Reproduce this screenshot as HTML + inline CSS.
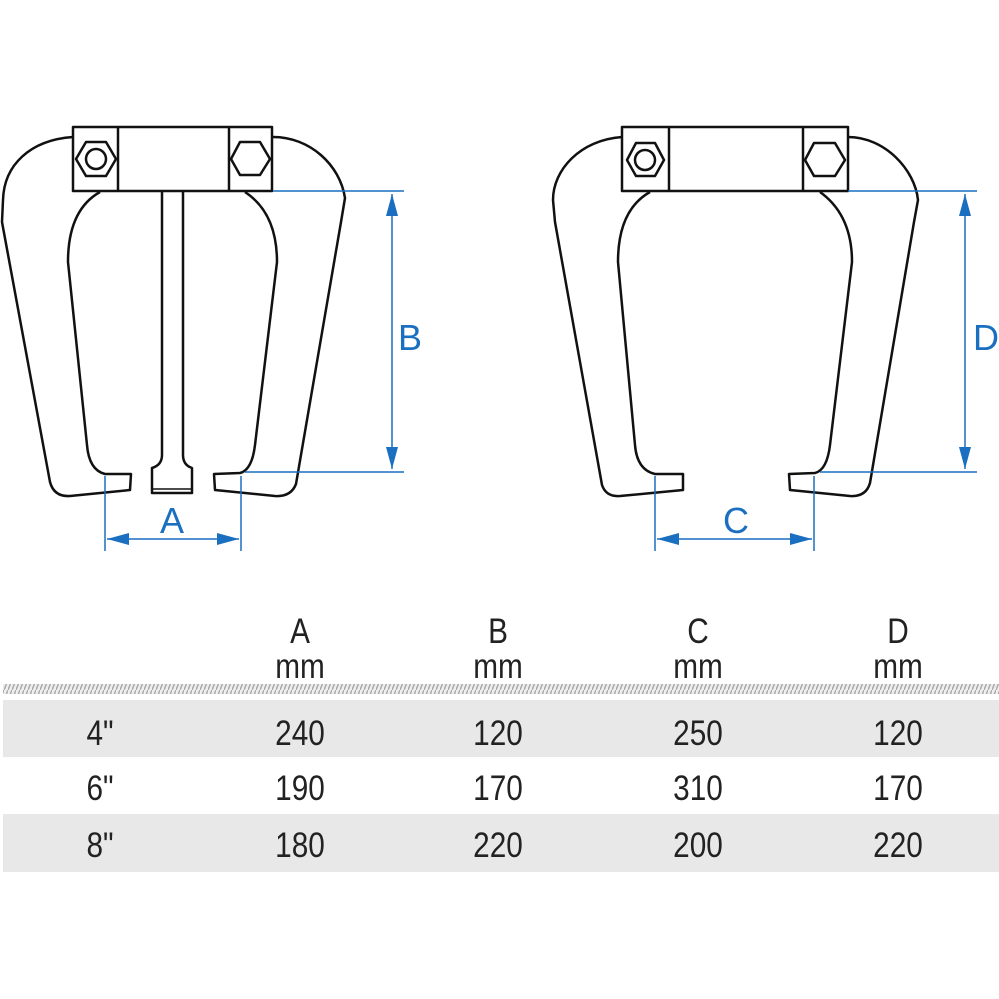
<!DOCTYPE html>
<html><head><meta charset="utf-8"><style>
body{margin:0;background:#fff;width:999px;height:999px;overflow:hidden;position:relative;font-family:"Liberation Sans",sans-serif}
.t{position:absolute;font-size:35px;color:#222;text-align:center;width:120px;margin-left:-60px;transform:scaleX(0.85);line-height:36px}
.row{position:absolute;left:3px;width:996px;background:#e8e8e8}
</style></head><body>
<svg width="999" height="999" style="position:absolute;left:0;top:0">
<defs>
<pattern id="h" width="4" height="10" patternUnits="userSpaceOnUse"><rect width="4" height="10" fill="#eee"/><line x1="0" y1="10" x2="4" y2="0" stroke="#aaa" stroke-width="1.5"/></pattern>
<marker id="ar" viewBox="0 0 10 10" refX="10" refY="5" markerWidth="22" markerHeight="12" orient="auto-start-reverse" markerUnits="userSpaceOnUse" preserveAspectRatio="none"><path d="M0,0 L10,5 L0,10 Z" fill="#1a6fc0"/></marker>
</defs>
<g fill="none" stroke="#111" stroke-width="2.5" stroke-linejoin="round">
<path d="M73,137 C30,140 4,165 3,200 L2,222 L50,482 Q54,497 70,496 L130,490 L131,474 L105,474 Q89,470 87,445 L68,262 Q68,210 100,192"/>
<path d="M273,137 C310,137 340,165 345,198 L341,222 L296,484 Q291,497 275,496 L215,490 L214,474 L240,473 Q252,470 255,445 L277,262 Q277,213 245,192"/>
<rect x="73" y="127" width="199" height="64" fill="#fff"/>
<line x1="118" y1="127" x2="118" y2="191"/><line x1="229" y1="127" x2="229" y2="191"/>
<polygon points="76,159 86,142 106,142 116,159 106,176 86,176"/>
<circle cx="96" cy="159" r="10"/>
<polygon points="231,159 240,142 260,142 270,159 260,175 240,175"/>
<path d="M162,192 L162,455 Q162,465 152,468 L152,493 L192,493 L192,468 Q183,465 183,455 L183,192"/>
<line x1="153" y1="489" x2="191" y2="489" stroke-width="1.5"/>
<path d="M622,137 C580,140 553,170 553,200 L555,222 L602,485 Q606,497 620,496 L683,490 L683,474 L655,474 Q637,470 635,445 L618,262 Q618,210 650,192"/>
<path d="M848,137 C885,137 915,170 918,200 L914,222 L870,483 Q866,497 850,496 L790,490 L789,474 L815,473 Q827,470 830,445 L852,262 Q852,215 820,192"/>
<rect x="622" y="127" width="226" height="64" fill="#fff"/>
<line x1="669" y1="127" x2="669" y2="191"/><line x1="803" y1="127" x2="803" y2="191"/>
<polygon points="627,160 636,143 655,143 664,160 655,176 636,176"/>
<circle cx="645" cy="160" r="10"/>
<polygon points="805,160 814,143 835,143 845,160 835,176 814,176"/>
</g>
<g stroke="#1a6fc0" stroke-width="1.5" fill="none">
<line x1="273" y1="191" x2="404" y2="191"/><line x1="245" y1="472" x2="404" y2="472"/>
<line x1="392" y1="194" x2="392" y2="469" marker-start="url(#ar)" marker-end="url(#ar)"/>
<line x1="105" y1="476" x2="105" y2="551"/><line x1="241" y1="476" x2="241" y2="551"/>
<line x1="107" y1="539" x2="239" y2="539" marker-start="url(#ar)" marker-end="url(#ar)"/>
<line x1="848" y1="191" x2="977" y2="191"/><line x1="820" y1="472" x2="977" y2="472"/>
<line x1="965" y1="194" x2="965" y2="469" marker-start="url(#ar)" marker-end="url(#ar)"/>
<line x1="655" y1="476" x2="655" y2="551"/><line x1="814" y1="476" x2="814" y2="551"/>
<line x1="657" y1="539" x2="812" y2="539" marker-start="url(#ar)" marker-end="url(#ar)"/>
</g>
<g fill="#1a6fc0" font-family="Liberation Sans,sans-serif" font-size="36" text-anchor="middle">
<text x="410" y="350">B</text><text x="172" y="533">A</text>
<text x="986" y="350">D</text><text x="736" y="533">C</text>
</g>
<rect x="3" y="684" width="996" height="10" fill="url(#h)"/>
</svg>
<div class="row" style="top:700px;height:57px"></div>
<div class="row" style="top:814px;height:58px"></div>
<div class="t" style="left:300px;top:614px">A</div><div class="t" style="left:300px;top:649px">mm</div>
<div class="t" style="left:498px;top:614px">B</div><div class="t" style="left:498px;top:649px">mm</div>
<div class="t" style="left:698px;top:614px">C</div><div class="t" style="left:698px;top:649px">mm</div>
<div class="t" style="left:898px;top:614px">D</div><div class="t" style="left:898px;top:649px">mm</div>
<div class="t" style="left:100px;top:716px">4"</div><div class="t" style="left:300px;top:716px">240</div><div class="t" style="left:498px;top:716px">120</div><div class="t" style="left:698px;top:716px">250</div><div class="t" style="left:898px;top:716px">120</div>
<div class="t" style="left:100px;top:771px">6"</div><div class="t" style="left:300px;top:771px">190</div><div class="t" style="left:498px;top:771px">170</div><div class="t" style="left:698px;top:771px">310</div><div class="t" style="left:898px;top:771px">170</div>
<div class="t" style="left:100px;top:828px">8"</div><div class="t" style="left:300px;top:828px">180</div><div class="t" style="left:498px;top:828px">220</div><div class="t" style="left:698px;top:828px">200</div><div class="t" style="left:898px;top:828px">220</div>
</body></html>
